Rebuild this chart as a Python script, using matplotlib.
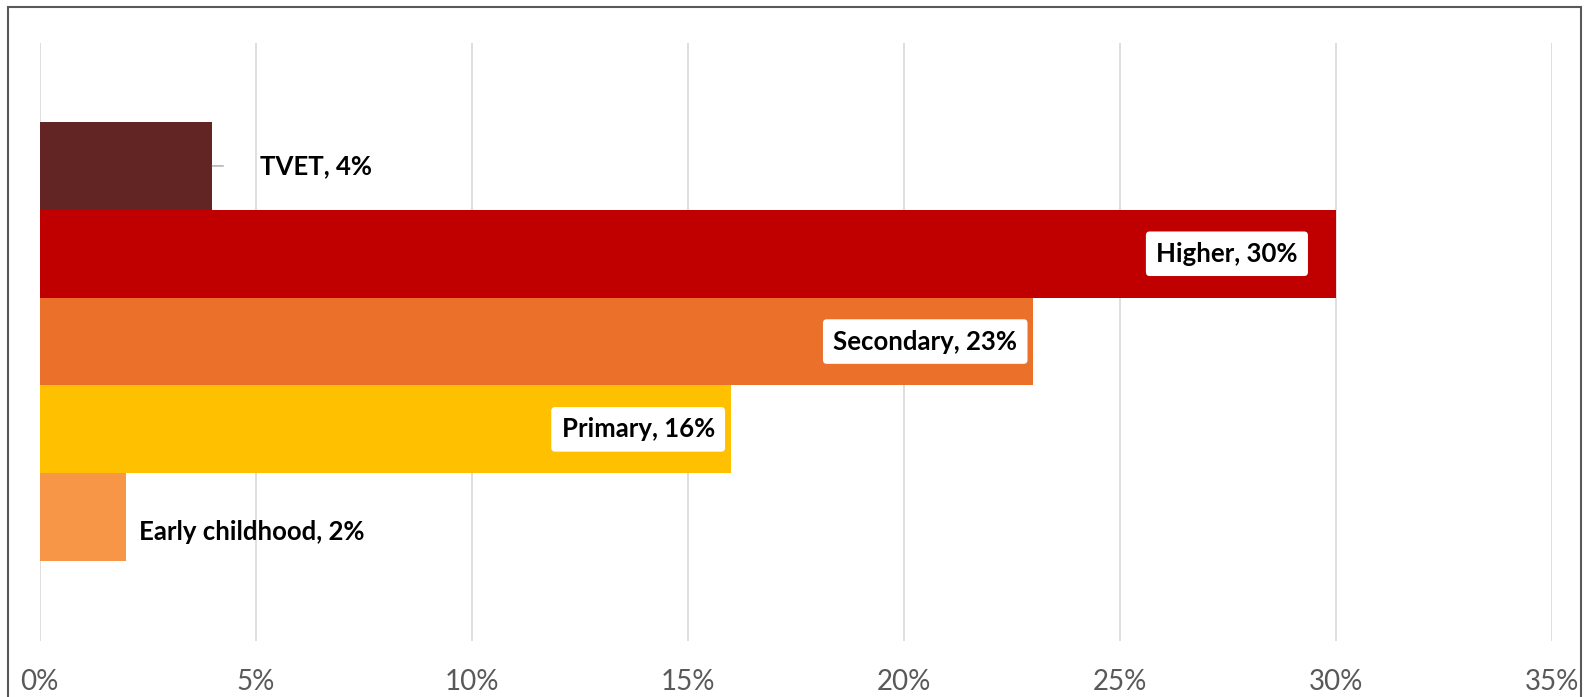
import matplotlib
matplotlib.use("Agg")
import matplotlib.pyplot as plt
from matplotlib.patches import Rectangle

# data, bottom to top
levels = ["Early childhood", "Primary", "Secondary", "Higher", "TVET"]
shares = [0.02, 0.16, 0.23, 0.30, 0.04]
colors = ["#F79646", "#FFC000", "#EB7029", "#C00000", "#632523"]
inside = [False, True, True, True, False]
xticks = [0, 0.05, 0.10, 0.15, 0.20, 0.25, 0.30, 0.35]
xtick_labels = ["0%", "5%", "10%", "15%", "20%", "25%", "30%", "35%"]

plt.rcParams["font.family"] = ["Lato", "DejaVu Sans"]

W, H = 1584, 697
fig = plt.figure(figsize=(W / 100, H / 100), dpi=100)
ax = fig.add_axes([39.5 / W, 1 - 641 / H, (1551.7 - 39.5) / W, (641 - 43) / H])

ypos = list(range(len(levels)))
ax.barh(ypos, shares, height=1.0, color=colors, zorder=2)

ax.set_xlim(0, 0.35)
ax.set_ylim(-1.41, 5.40)
ax.set_xticks(xticks)
ax.set_xticklabels(xtick_labels, fontsize=20, color="#595959")
ax.tick_params(axis="x", length=0, pad=20)
ax.set_yticks([])
ax.grid(axis="x", color="#D9D9D9", linewidth=1.2, zorder=0)
for s in ax.spines.values():
    s.set_visible(False)

lab_size = 18.5
for y, name, v, ins in zip(ypos, levels, shares, inside):
    txt = "%s, %d%%" % (name, round(v * 100))
    if ins:
        dx = -38 if name == "Higher" else -16
        ax.annotate(txt, (v, y), xytext=(dx, 0), textcoords="offset pixels",
                    ha="right", va="center", fontsize=lab_size, fontweight="bold",
                    color="black", zorder=4,
                    bbox=dict(boxstyle="round,pad=0.4,rounding_size=0.15",
                              fc="white", ec="none"))
    elif name == "TVET":
        ax.annotate(txt, (v, y), xytext=(48, 0), textcoords="offset pixels",
                    ha="left", va="center", fontsize=lab_size, fontweight="bold",
                    color="black", zorder=4)
        ax.annotate("", (v, y), xytext=(11, 0), textcoords="offset pixels",
                    arrowprops=dict(arrowstyle="-", color="#A6A6A6", lw=1,
                                    shrinkA=0, shrinkB=0))
    else:
        ax.annotate(txt, (v, y), xytext=(13, -15), textcoords="offset pixels",
                    ha="left", va="center", fontsize=lab_size, fontweight="bold",
                    color="black", zorder=4)

# chart border
fig.patches.append(Rectangle((8 / W, -0.05), (1581 - 8) / W, 1.05 - 7 / H,
                             transform=fig.transFigure, fill=False,
                             ec="#595959", lw=1.5))

fig.savefig("out.png", dpi=100, facecolor="white")
